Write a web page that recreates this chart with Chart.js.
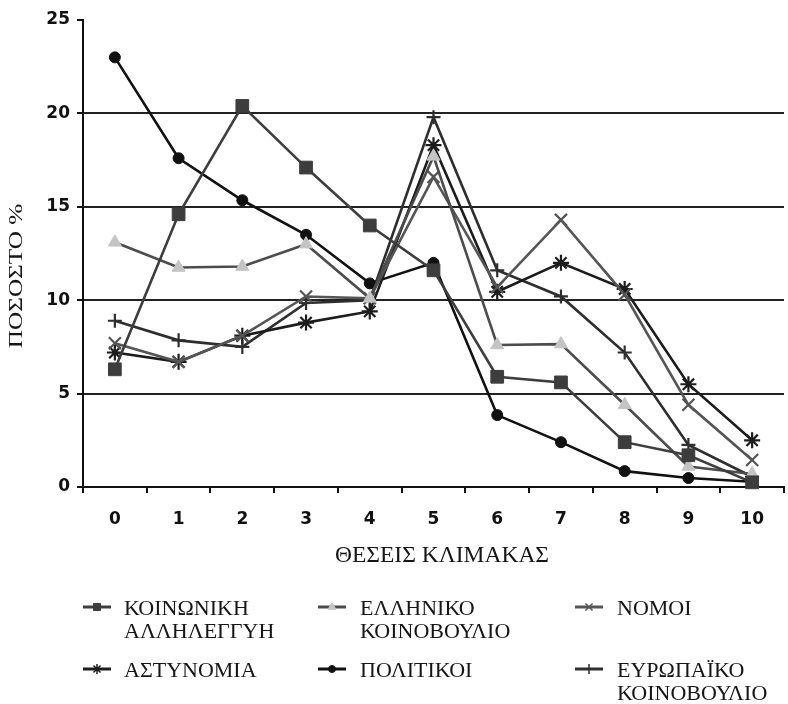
<!DOCTYPE html>
<html>
<head>
<meta charset="utf-8">
<script src="https://cdn.jsdelivr.net/npm/chart.js@4/dist/chart.umd.min.js"></script>
<style>
html,body{margin:0;padding:0;background:#fff;}
#wrap{position:relative;width:788px;height:704px;}
</style>
</head>
<body>
<div id="wrap"><canvas id="c" width="788" height="704"></canvas></div>
<script>
const categories = ['0','1','2','3','4','5','6','7','8','9','10'];
const yTicks = [0,5,10,15,20,25];
const labelsK = ['ΚΟΙΝΩΝΙΚΗ','ΑΛΛΗΛΕΓΓΥΗ'];
const labelsE = ['ΕΛΛΗΝΙΚΟ','ΚΟΙΝΟΒΟΥΛΙΟ'];
const labelsN = ['ΝΟΜΟΙ'];
const labelsA = ['ΑΣΤΥΝΟΜΙΑ'];
const labelsP = ['ΠΟΛΙΤΙΚΟΙ'];
const labelsEU = ['ΕΥΡΩΠΑΪΚΟ','ΚΟΙΝΟΒΟΥΛΙΟ'];
const koinoniki = [6.3, 14.6, 20.4, 17.1, 14.0, 11.6, 5.9, 5.6, 2.4, 1.7, 0.25];
const elliniko = [13.1, 11.75, 11.8, 13.0, 10.1, 17.7, 7.6, 7.65, 4.4, 1.1, 0.7];
const nomoi = [7.7, 6.7, 8.1, 10.2, 10.1, 16.6, 10.7, 14.3, 10.3, 4.4, 1.45];
const astynomia = [7.2, 6.7, 8.1, 8.8, 9.4, 18.3, 10.45, 12.0, 10.6, 5.5, 2.5];
const politikoi = [23.0, 17.6, 15.35, 13.5, 10.9, 12.0, 3.85, 2.4, 0.85, 0.48, 0.28];
const evropaiko = [8.9, 7.85, 7.5, 9.85, 10.0, 19.8, 11.6, 10.2, 7.2, 2.25, 0.55];
const xTitle = 'ΘΕΣΕΙΣ ΚΛΙΜΑΚΑΣ';
const yTitle = 'ΠΟΣΟΣΤΟ %';

function ds(label, data, line, mFill, mStroke, style, r, legendR) {
  return {
    label: label, data: data,
    borderColor: line, borderWidth: 2.6,
    pointStyle: style, pointRadius: r, pointHoverRadius: r,
    pointBackgroundColor: mFill, pointBorderColor: mStroke,
    pointBorderWidth: (style === 'crossRot' || style === 'cross' || style === 'star') ? 2.2 : 1,
    tension: 0, fill: false, legendR: legendR, clip: false
  };
}

const datasets = [
  ds(labelsK, koinoniki, '#3d3d3d', '#3d3d3d', '#3d3d3d', 'rect', 9, 5),
  ds(labelsE, elliniko, '#4c4c4c', '#c4c4c4', '#c4c4c4', 'triangle', 7.5, 4.5),
  ds(labelsN, nomoi, '#555555', '#555555', '#555555', 'crossRot', 8.5, 5),
  ds(labelsA, astynomia, '#1c1c1c', '#1c1c1c', '#1c1c1c', 'star', 8, 5),
  ds(labelsP, politikoi, '#111111', '#111111', '#111111', 'circle', 5.5, 3.5),
  ds(labelsEU, evropaiko, '#2e2e2e', '#2e2e2e', '#2e2e2e', 'cross', 7, 5)
];

const customDraw = {
  id: 'customDraw',
  afterDraw(chart) {
    const ctx = chart.ctx;
    ctx.save();
    ctx.fillStyle = '#151515';
    // x title
    ctx.font = '23.5px "Liberation Serif", "Times New Roman", serif';
    ctx.textAlign = 'center';
    ctx.textBaseline = 'middle';
    ctx.fillText(xTitle, 442, 556);
    // y title
    ctx.save();
    ctx.translate(17, 276);
    ctx.rotate(-Math.PI / 2);
    ctx.scale(1.4, 1);
    ctx.font = '18px "Liberation Serif", "Times New Roman", serif';
    ctx.fillText(yTitle, 0, 0);
    ctx.restore();
    // legend
    const colSwatch = [83, 318, 575];
    const colText = [124, 360, 617];
    const rowY = [608, 670];
    const lineH = 23;
    chart.data.datasets.forEach((d, i) => {
      const col = i % 3, row = Math.floor(i / 3);
      const y = rowY[row];
      const x0 = colSwatch[col];
      ctx.strokeStyle = d.borderColor;
      ctx.lineWidth = 3;
      ctx.beginPath();
      ctx.moveTo(x0, y - 1);
      ctx.lineTo(x0 + 28, y - 1);
      ctx.stroke();
      ctx.fillStyle = d.pointBackgroundColor;
      ctx.strokeStyle = d.pointBorderColor;
      ctx.lineWidth = (d.pointStyle === 'crossRot' || d.pointStyle === 'cross' || d.pointStyle === 'star') ? 1.5 : 1;
      Chart.helpers.drawPoint(ctx, {pointStyle: d.pointStyle, radius: d.legendR, rotation: 0, borderWidth: ctx.lineWidth}, x0 + 14, y - 1);
      ctx.fillStyle = '#151515';
      ctx.font = '22px "Liberation Serif", "Times New Roman", serif';
      ctx.textAlign = 'left';
      ctx.textBaseline = 'middle';
      d.label.forEach((t, k) => ctx.fillText(t, colText[col], y + 1 + k * lineH));
    });
    ctx.restore();
  }
};

new Chart(document.getElementById('c'), {
  type: 'line',
  data: { labels: categories, datasets: datasets },
  plugins: [customDraw],
  options: {
    responsive: false,
    animation: false,
    layout: { autoPadding: false, padding: { left: 0, right: 4, top: 20, bottom: 0 } },
    plugins: { legend: { display: false }, tooltip: { enabled: false }, title: { display: false } },
    scales: {
      x: {
        type: 'category',
        offset: true,
        grid: { offset: true, drawOnChartArea: false, drawTicks: true, tickLength: 6, color: '#111', lineWidth: 2 },
        border: { display: true, color: '#111', width: 2 },
        ticks: { color: '#111', font: { family: '"DejaVu Sans", Verdana, sans-serif', size: 17, weight: 'bold' }, padding: 16, maxRotation: 0 },
        afterFit(scale) { scale.height = 217; }
      },
      y: {
        min: 0, max: 25,
        afterBuildTicks(scale) { scale.ticks = yTicks.map(v => ({ value: v })); },
        grid: {
          color: (c) => (c.tick && c.tick.value === 25) ? 'rgba(0,0,0,0)' : '#222',
          tickColor: '#111', lineWidth: 2, tickLength: 6, drawTicks: true
        },
        border: { display: true, color: '#111', width: 2 },
        ticks: { color: '#111', font: { family: '"DejaVu Sans", Verdana, sans-serif', size: 17, weight: 'bold' }, padding: 7 },
        afterFit(scale) { scale.width = 83; }
      }
    }
  }
});
</script>
</body>
</html>
